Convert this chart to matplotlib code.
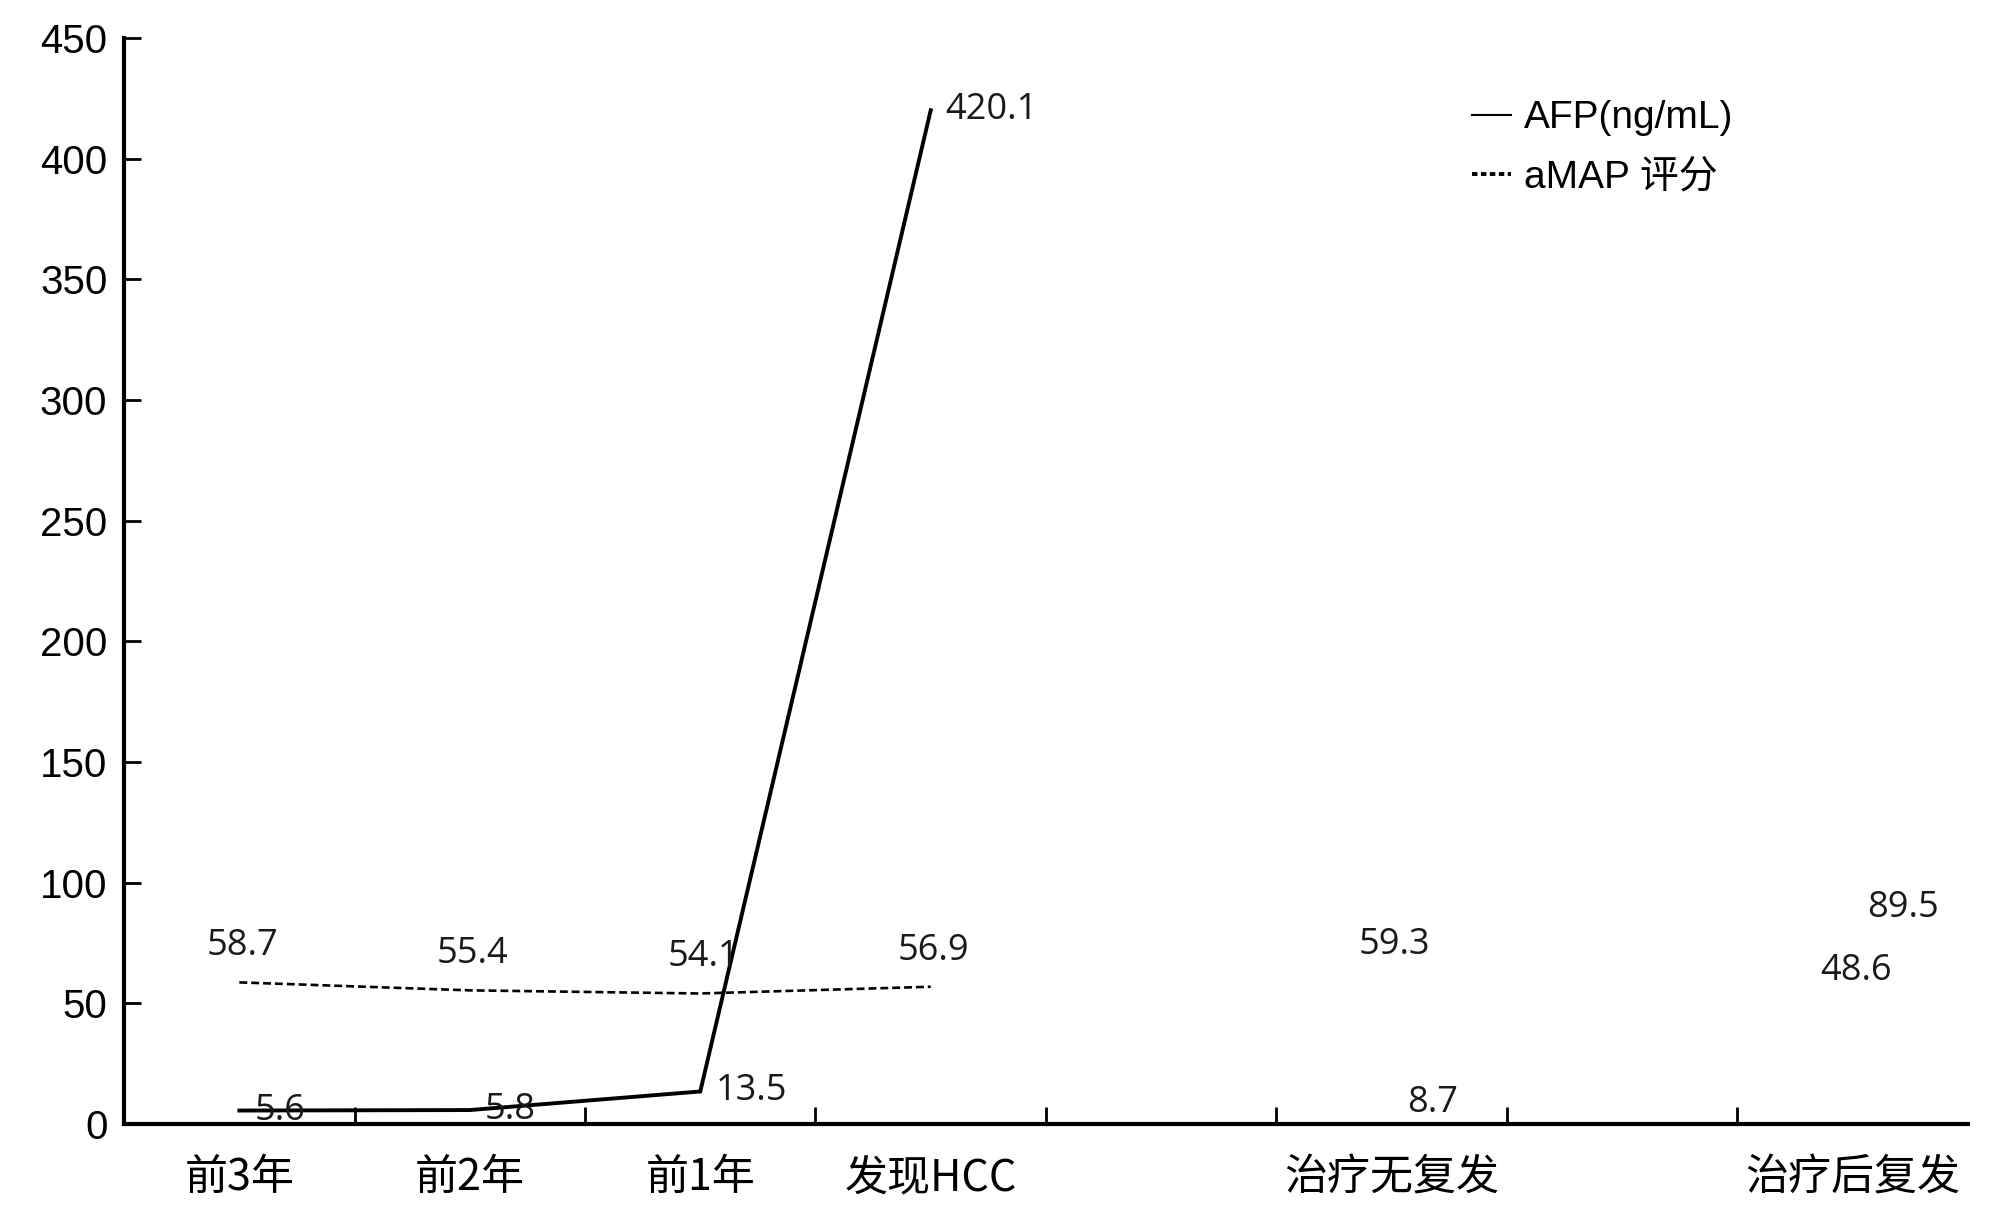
import numpy as np
import matplotlib
matplotlib.use("Agg")
import matplotlib.pyplot as plt
from matplotlib.lines import Line2D

categories = ["前3年", "前2年", "前1年", "发现HCC", "", "治疗无复发", "", "治疗后复发"]
afp = [5.6, 5.8, 13.5, 420.1, np.nan, 8.7, np.nan, 89.5]
amap = [58.7, 55.4, 54.1, 56.9, np.nan, 59.3, np.nan, 48.6]
yticks = [0, 50, 100, 150, 200, 250, 300, 350, 400, 450]

plt.rcParams['font.family'] = ['Liberation Sans', 'Noto Sans CJK SC', 'DejaVu Sans']

fig = plt.figure(figsize=(20.08, 12.27), dpi=100)
ax = fig.add_axes([0.0618, 0.0839, 0.9182, 0.8851])

x = np.arange(len(categories)) + 0.5
ax.plot(x, afp, color='black', lw=2.8, solid_joinstyle='miter')
ax.plot(x, amap, color='black', lw=1.9, ls=(0, (3, 1.5)))

lab_font = ['Open Sans', 'DejaVu Sans']
for xi, v in zip(x, afp):
    if not np.isnan(v):
        ax.annotate(f"{v:.1f}", (xi, v), xytext=(15, 0), textcoords='offset pixels',
                    ha='left', va='center', fontsize=26, family=lab_font, color='#1a1a1a')
for xi, v in zip(x, amap):
    if not np.isnan(v):
        ax.annotate(f"{v:.1f}", (xi, v), xytext=(3, 36), textcoords='offset pixels',
                    ha='center', va='center', fontsize=26, family=lab_font, color='#1a1a1a')

ax.set_xlim(0, len(categories))
ax.set_ylim(0, 450)
ax.set_yticks(yticks)
ax.set_yticklabels([str(t) for t in yticks], fontsize=29, family=['Liberation Sans'])
ax.set_xticks(np.arange(1, len(categories)))
ax.set_xticklabels([])
ax.set_xticks(x, minor=True)
ax.set_xticklabels(categories, minor=True, fontsize=31, family=['Noto Sans CJK SC'],
                   fontweight='medium')
ax.tick_params(axis='x', which='major', direction='in', length=12, width=2)
ax.tick_params(axis='x', which='minor', length=0, pad=23)
ax.tick_params(axis='y', direction='in', length=12, width=2, pad=12)

for s in ['top', 'right']:
    ax.spines[s].set_visible(False)
for s in ['left', 'bottom']:
    ax.spines[s].set_linewidth(3)

handles = [Line2D([], [], color='black', lw=1.5),
           Line2D([], [], color='black', lw=2.8, ls=(0, (1.4, 0.9)))]
leg = ax.legend(handles, ["AFP(ng/mL)", "aMAP 评分"], loc='upper left',
                bbox_to_anchor=(0.712, 0.975), frameon=False, fontsize=28,
                handlelength=1.0, handletextpad=0.35, labelspacing=0.6)

fig.savefig("out.png", dpi=100)
